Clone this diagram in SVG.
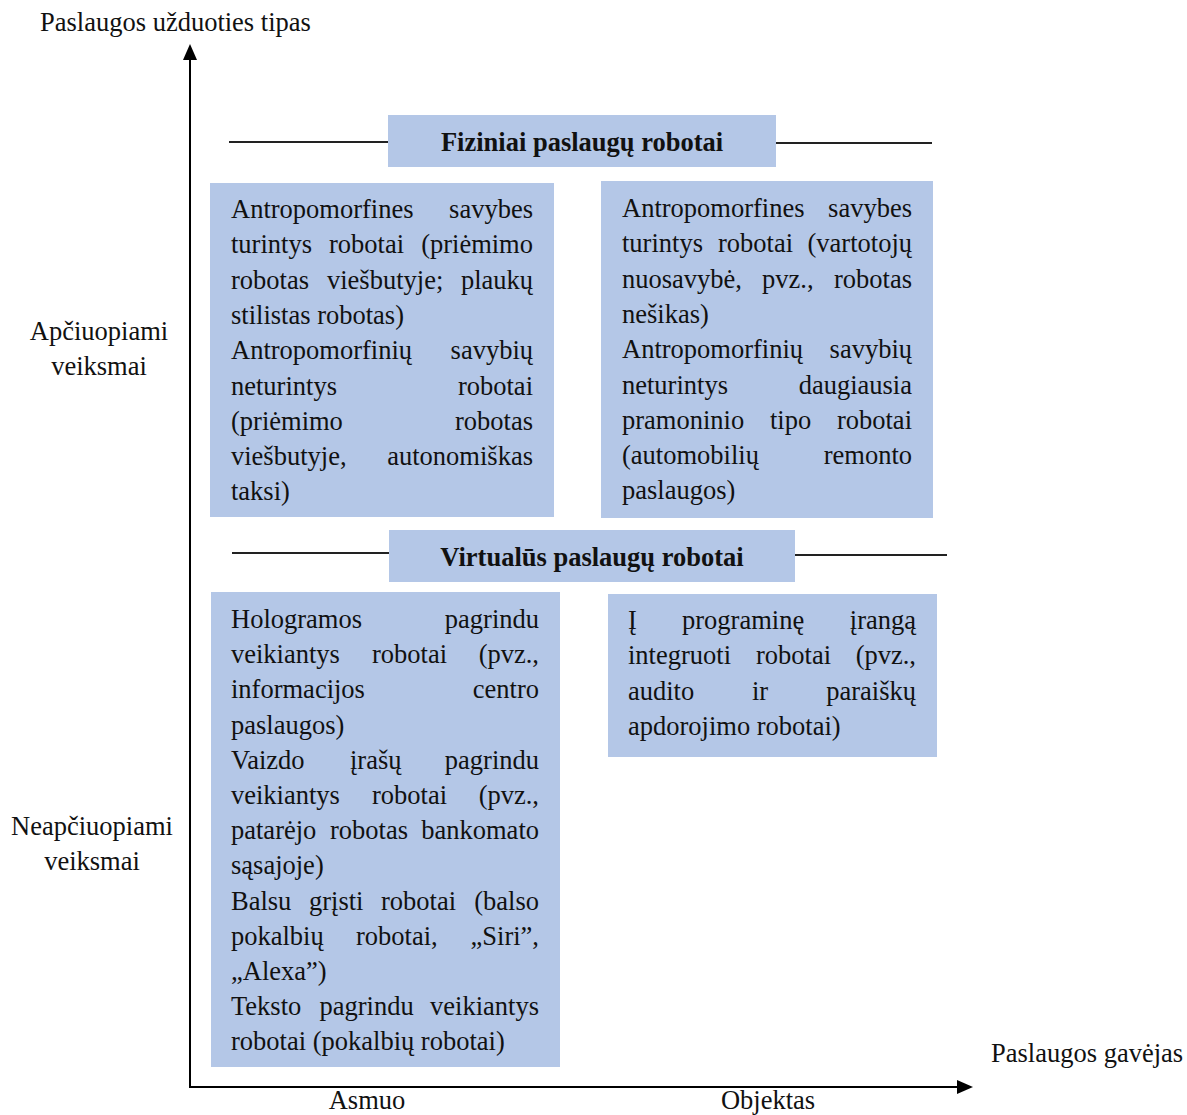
<svg xmlns="http://www.w3.org/2000/svg" width="1187" height="1115" viewBox="0 0 1187 1115">
  <style>
    text { font-family: "Liberation Serif", "Times New Roman", serif; font-size: 26.5px; fill: #111; }
    .hdr { font-weight: bold; text-anchor: middle; }
    .box { fill: #B4C7E7; }
    .rule { stroke: #222; stroke-width: 1.8; fill: none; }
    .axis { stroke: #000; stroke-width: 2; fill: none; }
    .e { text-anchor: end; }
    .m { text-anchor: middle; }
  </style>
  <defs>
    <marker id="arrow" viewBox="0 0 16 14" refX="1" refY="7" markerWidth="16" markerHeight="14" markerUnits="userSpaceOnUse" orient="auto">
      <path d="M0,0 L16,7 L0,14 Z" fill="#000"/>
    </marker>
  </defs>

  <rect width="1187" height="1115" fill="#fff"/>

  <!-- axes and header rules -->
  <g id="connectors">
    <line class="axis" x1="190" y1="1088" x2="190" y2="59" marker-end="url(#arrow)"/>
    <line class="axis" x1="189" y1="1087" x2="958" y2="1087" marker-end="url(#arrow)"/>
    <line class="rule" x1="229" y1="142" x2="388" y2="142"/>
    <line class="rule" x1="775" y1="143" x2="932" y2="143"/>
    <line class="rule" x1="232" y1="553" x2="390" y2="553"/>
    <line class="rule" x1="793" y1="555" x2="947" y2="555"/>
  </g>

  <!-- axis labels -->
  <g id="axis-labels">
    <text x="40" y="31">Paslaugos užduoties tipas</text>
    <text class="m" x="99" y="340">Apčiuopiami</text>
    <text class="m" x="99" y="375">veiksmai</text>
    <text class="m" x="92" y="835">Neapčiuopiami</text>
    <text class="m" x="92" y="870">veiksmai</text>
    <text x="991" y="1062">Paslaugos gavėjas</text>
    <text class="m" x="367" y="1109">Asmuo</text>
    <text class="m" x="768" y="1109">Objektas</text>
  </g>

  <!-- category headers -->
  <g id="physical-header">
    <rect class="box" x="388" y="115" width="388" height="52"/>
    <text class="hdr" x="582" y="151">Fiziniai paslaugų robotai</text>
  </g>
  <g id="virtual-header">
    <rect class="box" x="389" y="530" width="406" height="52"/>
    <text class="hdr" x="592" y="566">Virtualūs paslaugų robotai</text>
  </g>

  <!-- physical / person -->
  <g id="physical-person">
    <rect class="box" x="210" y="183" width="344" height="334"/>
    <text x="231" y="218">Antropomorfines</text><text class="e" x="533" y="218">savybes</text>
    <text x="231" y="253.3">turintys</text><text x="329" y="253.3">robotai</text><text class="e" x="533" y="253.3">(priėmimo</text>
    <text x="231" y="288.6">robotas</text><text x="327" y="288.6">viešbutyje;</text><text class="e" x="533" y="288.6">plaukų</text>
    <text x="231" y="323.9">stilistas robotas)</text>
    <text x="231" y="359.2">Antropomorfinių</text><text class="e" x="533" y="359.2">savybių</text>
    <text x="231" y="394.5">neturintys</text><text class="e" x="533" y="394.5">robotai</text>
    <text x="231" y="429.8">(priėmimo</text><text class="e" x="533" y="429.8">robotas</text>
    <text x="231" y="465.1">viešbutyje,</text><text class="e" x="533" y="465.1">autonomiškas</text>
    <text x="231" y="500.4">taksi)</text>
  </g>

  <!-- physical / object -->
  <g id="physical-object">
    <rect class="box" x="601" y="181" width="332" height="337"/>
    <text x="622" y="217">Antropomorfines</text><text class="e" x="912" y="217">savybes</text>
    <text x="622" y="252.3">turintys</text><text x="718" y="252.3">robotai</text><text class="e" x="912" y="252.3">(vartotojų</text>
    <text x="622" y="287.6">nuosavybė,</text><text x="762" y="287.6">pvz.,</text><text class="e" x="912" y="287.6">robotas</text>
    <text x="622" y="322.9">nešikas)</text>
    <text x="622" y="358.2">Antropomorfinių</text><text class="e" x="912" y="358.2">savybių</text>
    <text x="622" y="393.5">neturintys</text><text class="e" x="912" y="393.5">daugiausia</text>
    <text x="622" y="428.8">pramoninio</text><text x="770" y="428.8">tipo</text><text class="e" x="912" y="428.8">robotai</text>
    <text x="622" y="464.1">(automobilių</text><text class="e" x="912" y="464.1">remonto</text>
    <text x="622" y="499.4">paslaugos)</text>
  </g>

  <!-- virtual / person -->
  <g id="virtual-person">
    <rect class="box" x="211" y="592" width="349" height="475"/>
    <text x="231" y="628">Hologramos</text><text class="e" x="539" y="628">pagrindu</text>
    <text x="231" y="663.2">veikiantys</text><text x="372" y="663.2">robotai</text><text class="e" x="539" y="663.2">(pvz.,</text>
    <text x="231" y="698.4">informacijos</text><text class="e" x="539" y="698.4">centro</text>
    <text x="231" y="733.6">paslaugos)</text>
    <text x="231" y="768.8">Vaizdo</text><text x="350" y="768.8">įrašų</text><text class="e" x="539" y="768.8">pagrindu</text>
    <text x="231" y="804">veikiantys</text><text x="372" y="804">robotai</text><text class="e" x="539" y="804">(pvz.,</text>
    <text x="231" y="839.2">patarėjo</text><text x="330" y="839.2">robotas</text><text class="e" x="539" y="839.2">bankomato</text>
    <text x="231" y="874.4">sąsajoje)</text>
    <text x="231" y="909.6">Balsu</text><text x="309" y="909.6">grįsti</text><text x="381" y="909.6">robotai</text><text class="e" x="539" y="909.6">(balso</text>
    <text x="231" y="944.8">pokalbių</text><text x="356" y="944.8">robotai,</text><text class="e" x="539" y="944.8">„Siri”,</text>
    <text x="231" y="980">„Alexa”)</text>
    <text x="231" y="1015.2">Teksto</text><text x="319.5" y="1015.2">pagrindu</text><text class="e" x="539" y="1015.2">veikiantys</text>
    <text x="231" y="1050.4">robotai (pokalbių robotai)</text>
  </g>

  <!-- virtual / object -->
  <g id="virtual-object">
    <rect class="box" x="608" y="594" width="329" height="163"/>
    <text x="628" y="629">Į</text><text x="682" y="629">programinę</text><text class="e" x="916" y="629">įrangą</text>
    <text x="628" y="664.3">integruoti</text><text x="756" y="664.3">robotai</text><text class="e" x="916" y="664.3">(pvz.,</text>
    <text x="628" y="699.6">audito</text><text x="752" y="699.6">ir</text><text class="e" x="916" y="699.6">paraiškų</text>
    <text x="628" y="734.9">apdorojimo robotai)</text>
  </g>
</svg>
